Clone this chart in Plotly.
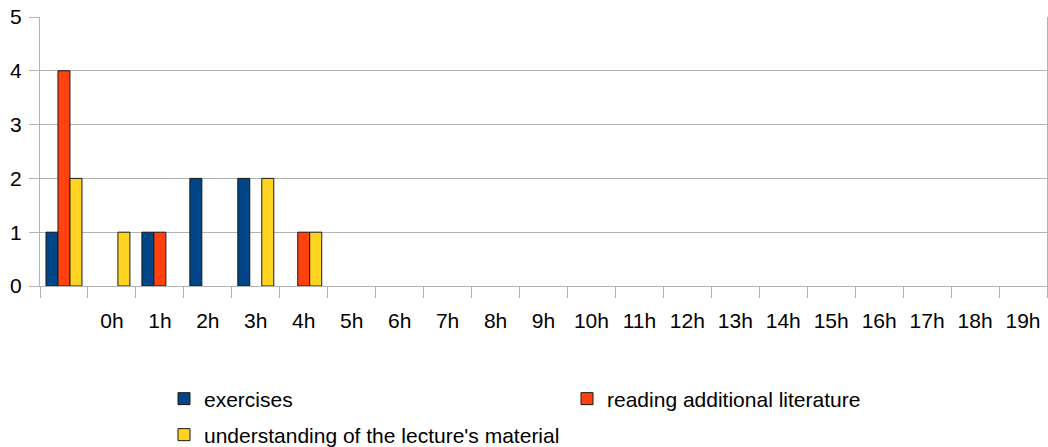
import plotly.graph_objects as go

categories = ["", "0h", "1h", "2h", "3h", "4h", "5h", "6h", "7h", "8h", "9h",
              "10h", "11h", "12h", "13h", "14h", "15h", "16h", "17h", "18h", "19h"]
exercises = [1, 0, 1, 2, 2, 0, 0, 0, 0, 0, 0, 0, 0, 0, 0, 0, 0, 0, 0, 0, 0]
reading = [4, 0, 1, 0, 0, 1, 0, 0, 0, 0, 0, 0, 0, 0, 0, 0, 0, 0, 0, 0, 0]
understanding = [2, 1, 0, 0, 2, 1, 0, 0, 0, 0, 0, 0, 0, 0, 0, 0, 0, 0, 0, 0, 0]
y_ticks = [0, 1, 2, 3, 4, 5]

series = [
    ("exercises", exercises, "#004586", "legend"),
    ("reading additional literature", reading, "#ff420e", "legend"),
    ("understanding of the lecture's material", understanding, "#ffd320", "legend2"),
]

xpos = list(range(len(categories)))
FONT = "Liberation Sans, Arial, sans-serif"
GRID = "#b3b3b3"

fig = go.Figure()
for name, vals, color, lg in series:
    fig.add_trace(go.Bar(
        x=xpos, y=vals, name=name, legend=lg,
        marker=dict(color=color,
                    line=dict(color="#1a1a1a", width=[1 if v else 0 for v in vals])),
    ))

fig.update_layout(
    width=1048, height=447,
    margin=dict(l=40, r=1, t=17, b=161, autoexpand=False),
    paper_bgcolor="white", plot_bgcolor="white",
    barmode="group", bargap=0.25, bargroupgap=0,
    font=dict(family=FONT, size=21, color="#000000"),
    showlegend=True,
    legend=dict(
        orientation="h", xref="container", yref="container",
        x=164 / 1048, y=1 - 399 / 447, xanchor="left", yanchor="middle",
        entrywidth=358, entrywidthmode="pixels",
        font=dict(family=FONT, size=21, color="#000000"),
        bgcolor="rgba(0,0,0,0)", traceorder="normal",
    ),
    legend2=dict(
        orientation="h", xref="container", yref="container",
        x=164 / 1048, y=1 - 435 / 447, xanchor="left", yanchor="middle",
        font=dict(family=FONT, size=21, color="#000000"),
        bgcolor="rgba(0,0,0,0)",
    ),
)

fig.update_xaxes(
    range=[-0.5, len(categories) - 0.5],
    tickmode="array", tickvals=xpos, ticktext=categories,
    ticks="", ticklabelstandoff=16, automargin=False,
    showgrid=False, zeroline=False,
    showline=True, linecolor=GRID, linewidth=1,
    minor=dict(
        tickmode="array",
        tickvals=[i - 0.5 for i in range(len(categories) + 1)],
        ticks="outside", ticklen=11, tickwidth=1, tickcolor=GRID, showgrid=False,
    ),
    tickfont=dict(family=FONT, size=21, color="#000000"),
    fixedrange=True,
)
fig.update_yaxes(
    range=[0, 5], tickmode="array", tickvals=y_ticks,
    ticks="outside", ticklen=10, tickwidth=1, tickcolor=GRID,
    ticklabelstandoff=3, automargin=False,
    showgrid=True, gridcolor=GRID, gridwidth=1,
    zeroline=False, showline=True, linecolor=GRID, linewidth=1, mirror=True,
    tickfont=dict(family=FONT, size=21, color="#000000"),
    fixedrange=True,
)

fig.write_html(
    "out.html",
    config={"displayModeBar": False},
    post_script="document.body.style.margin='0';document.body.style.padding='0';",
)
